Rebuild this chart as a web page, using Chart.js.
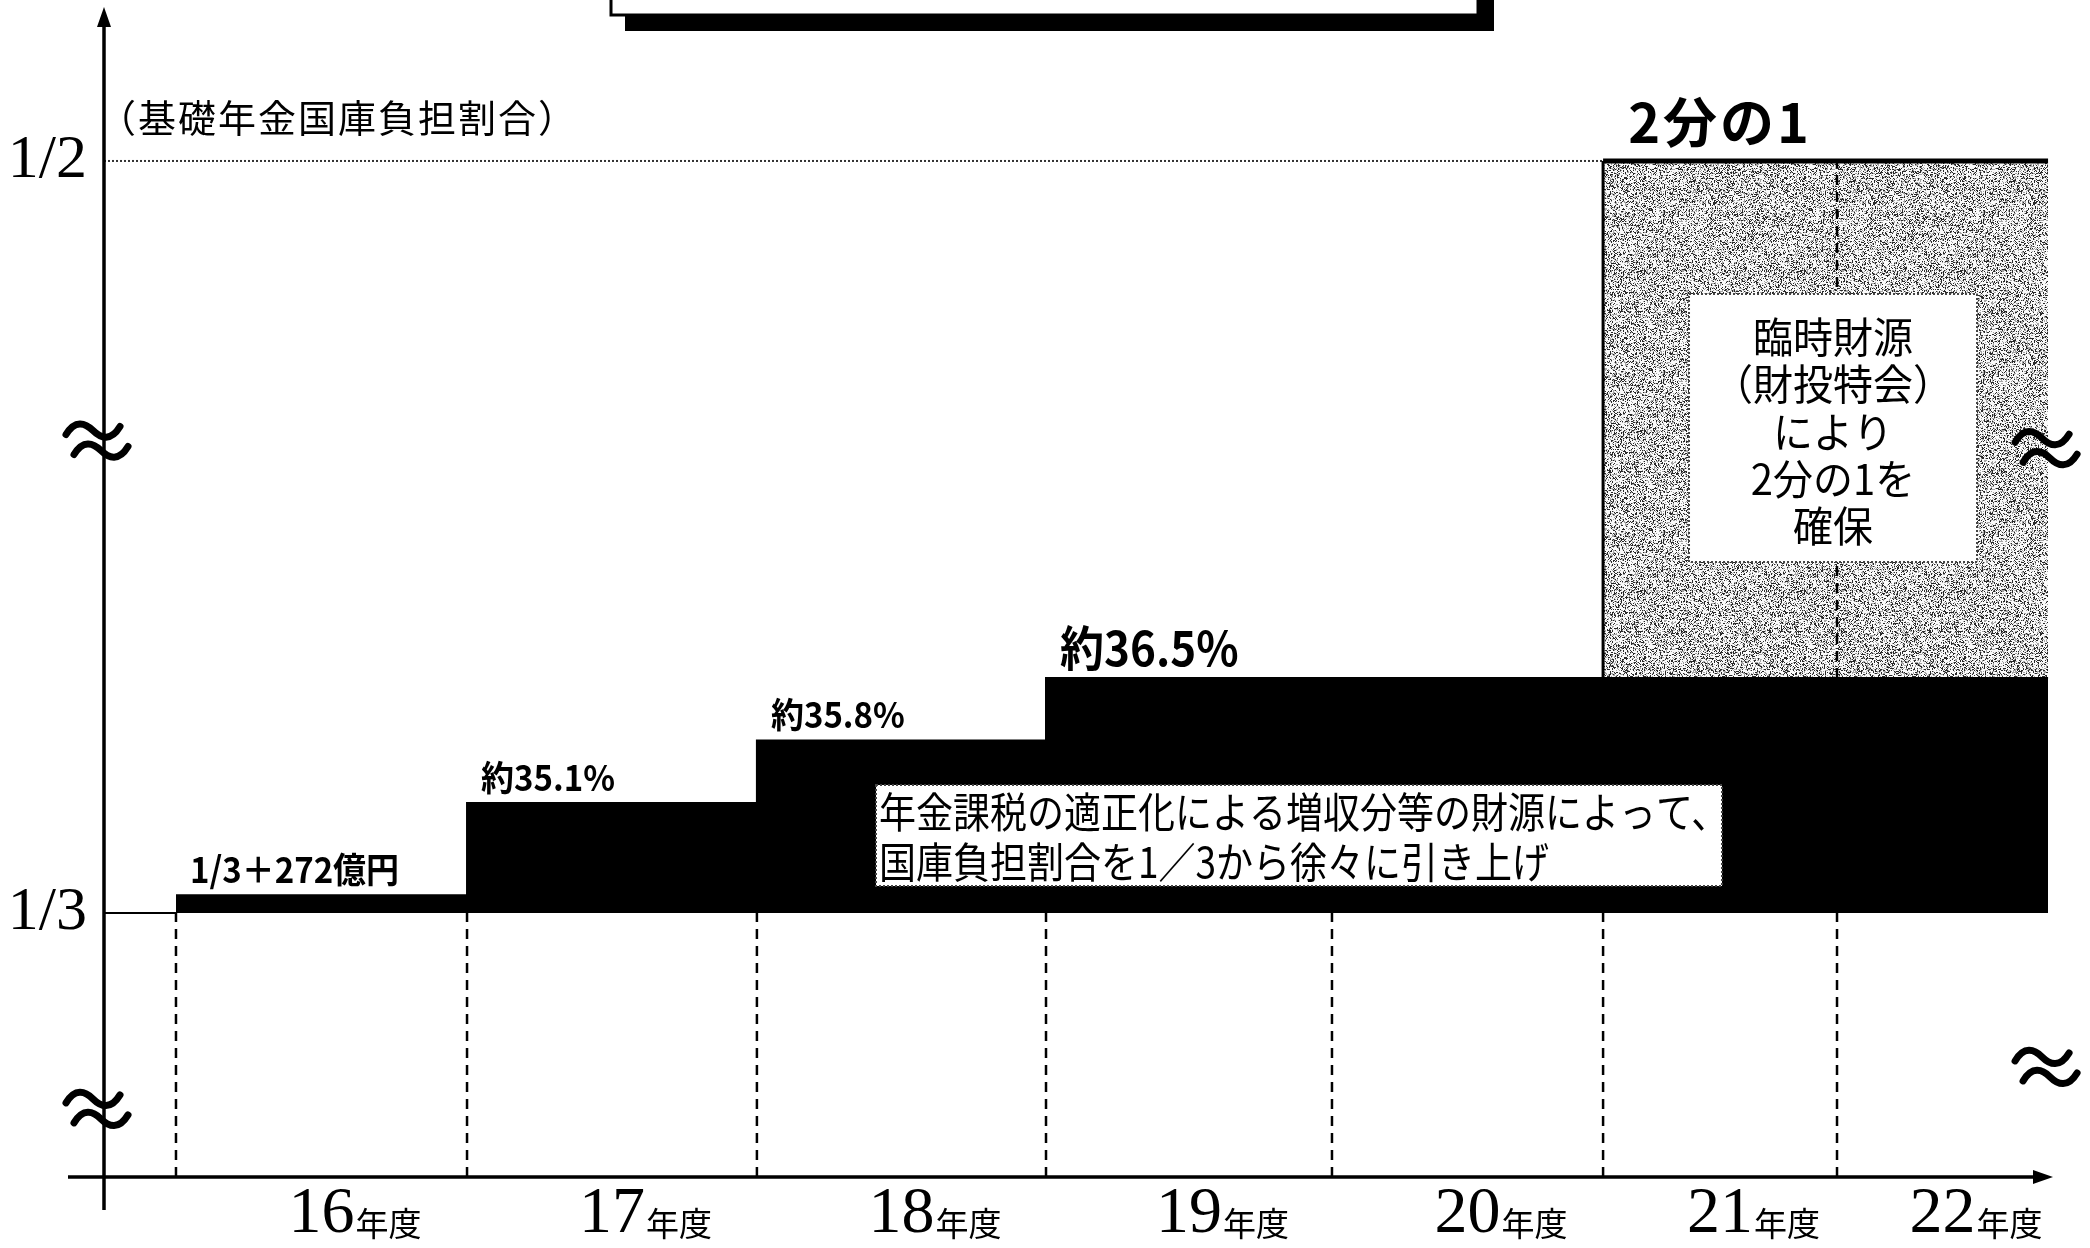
<!DOCTYPE html>
<html lang="ja">
<head>
<meta charset="utf-8">
<title>基礎年金国庫負担割合の引き上げ</title>
<script src="https://cdn.jsdelivr.net/npm/chart.js@4.4.1/dist/chart.umd.min.js"></script>
<style>
  html, body { margin: 0; padding: 0; background: #fff; }
  #wrap { width: 2090px; height: 1248px; position: relative; }
</style>
</head>
<body>
<div id="wrap"><canvas id="chart"></canvas></div>
<script>
// 年度（横軸）
const years = [16, 17, 18, 19, 20, 21, 22];
const yearLabels = ['16', '17', '18', '19', '20', '21', '22'];

// 国庫負担割合（%）
const burdenPct = [33.62, 35.1, 35.8, 36.5, 36.5, 36.5, 36.5];
const burdenLabels = ['1/3＋272億円', '約35.1%', '約35.8%', '約36.5%', null, null, null];

// 臨時財源で 2分の1 を確保する年度
const tempYears = [21, 22];
const halfPct = 50;
const thirdPct = 100 / 3;

// 縦軸目盛
const yTickValues = [thirdPct, halfPct];
const yTickLabels = ['1/3', '1/2'];

// 注記
const yAxisTitle = '（基礎年金国庫負担割合）';
const halfTitle = '2分の1';
const noteIncrease = ['年金課税の適正化による増収分等の財源によって、', '国庫負担割合を1／3から徐々に引き上げ'];
const noteTemp = ['臨時財源', '（財投特会）', 'により', '2分の1を', '確保'];

// 省略（≈）のある軸: 値 -> 軸上の位置 (0..1)
const AXIS_KNOTS = {
  x: [[15.25, 0], [15.5, 0.0368], [16.5, 0.1856], [17.5, 0.3338], [18.5, 0.4816],
      [19.5, 0.6278], [20.5, 0.7664], [21.5, 0.8860], [22.5, 0.9939], [22.557, 1]],
  y: [[0, 0], [thirdPct, 0.2256], [35.1, 0.3197], [36.5, 0.4265], [50, 0.8684], [54, 1]],
};
const yBreaksLeft = [42.7, 8.6];
const yBreaksRight = [42.5, 13.9];

function interp(knots, v, from, to) {
  for (let i = 1; i < knots.length; i++) {
    const a = knots[i - 1], b = knots[i];
    if (v <= b[from] || i === knots.length - 1) {
      return a[to] + (v - a[from]) * (b[to] - a[to]) / (b[from] - a[from]);
    }
  }
}

class BrokenScale extends Chart.LinearScale {
  getPixelForValue(value) {
    if (value === null || value === undefined || isNaN(value)) return NaN;
    return this.getPixelForDecimal(interp(AXIS_KNOTS[this.axis], value, 0, 1));
  }
  getValueForPixel(pixel) {
    return interp(AXIS_KNOTS[this.axis], this.getDecimalForPixel(pixel), 1, 0);
  }
}
BrokenScale.id = 'broken';
BrokenScale.defaults = Chart.LinearScale.defaults;
Chart.register(BrokenScale);

// ざらざらした網掛け
function makeGrain() {
  const c = document.createElement('canvas');
  c.width = c.height = 160;
  const g = c.getContext('2d');
  const img = g.createImageData(160, 160);
  let s = 20240601;
  for (let i = 0; i < 160 * 160; i++) {
    s = (Math.imul(s, 1103515245) + 12345) >>> 0;
    const r = (s >>> 8) / 16777216;
    const v = r < 0.22 ? 40 : r < 0.42 ? 165 : 250;
    img.data[i * 4] = img.data[i * 4 + 1] = img.data[i * 4 + 2] = v;
    img.data[i * 4 + 3] = 255;
  }
  g.putImageData(img, 0, 0);
  return g.createPattern(c, 'repeat');
}

// データ点を組み立てる
const xMin = AXIS_KNOTS.x[0][0];
const xMax = AXIS_KNOTS.x[AXIS_KNOTS.x.length - 1][0];
const boundaries = years.map(y => y - 0.5);

const stepPoints = years.map((y, i) => ({ x: y - 0.5, y: burdenPct[i] }));
stepPoints.push({ x: years[years.length - 1] + 0.5, y: burdenPct[burdenPct.length - 1] });

const t0 = tempYears[0] - 0.5;
const t1 = tempYears[tempYears.length - 1] + 0.5;
const tempBase = burdenPct[years.indexOf(tempYears[0])];
const tempPoints = [{ x: t0, y: tempBase }, { x: t0, y: halfPct }, { x: t1, y: halfPct }];

const dashPoints = [];
boundaries.forEach(b => dashPoints.push({ x: b, y: 0 }, { x: b, y: thirdPct }, { x: b, y: null }));
tempYears.slice(1).forEach(y => dashPoints.push({ x: y - 0.5, y: tempBase }, { x: y - 0.5, y: halfPct }, { x: y - 0.5, y: null }));

const halfLine = [{ x: xMin, y: halfPct }, { x: t0, y: halfPct }];
const thirdLine = [{ x: xMin, y: thirdPct }, { x: boundaries[0], y: thirdPct }];

function arrow(ctx, x, y, dir) {
  ctx.beginPath();
  if (dir === 'right') {
    ctx.moveTo(x, y); ctx.lineTo(x - 20, y - 7); ctx.lineTo(x - 20, y + 7);
  } else {
    ctx.moveTo(x, y); ctx.lineTo(x - 7, y + 20); ctx.lineTo(x + 7, y + 20);
  }
  ctx.closePath();
  ctx.fill();
}

// 波線（省略記号）
function breakMark(ctx, x, y) {
  ctx.lineWidth = 7;
  ctx.lineCap = 'round';
  [[-4, -10], [4, 10]].forEach(([dx, dy]) => {
    ctx.beginPath();
    ctx.moveTo(x + dx - 27, y + dy + 4);
    ctx.bezierCurveTo(x + dx - 18, y + dy - 11, x + dx - 8, y + dy - 8, x + dx, y + dy);
    ctx.bezierCurveTo(x + dx + 8, y + dy + 8, x + dx + 18, y + dy + 11, x + dx + 27, y + dy - 4);
    ctx.stroke();
  });
  ctx.lineCap = 'butt';
}

function noteBox(ctx, x, y, w, h) {
  ctx.fillStyle = '#fff';
  ctx.fillRect(x, y, w, h);
  ctx.setLineDash([2, 2]);
  ctx.lineWidth = 2;
  ctx.strokeStyle = '#444';
  ctx.strokeRect(x, y, w, h);
  ctx.setLineDash([]);
}

// 縦長の字形で書く
function tallText(ctx, text, x, y, sy) {
  ctx.save();
  ctx.translate(x, y);
  ctx.scale(1, sy);
  ctx.fillText(text, 0, 0);
  ctx.restore();
}

const decor = {
  id: 'decor',
  beforeDraw(chart) {
    const { ctx, width, height } = chart;
    ctx.save();
    ctx.fillStyle = '#fff';
    ctx.fillRect(0, 0, width, height);
    // 上部の見出し枠（上端で切れている）
    ctx.fillStyle = '#000';
    ctx.fillRect(625, 0, 869, 31);
    ctx.fillStyle = '#fff';
    ctx.fillRect(611, -10, 867, 25);
    ctx.strokeStyle = '#000';
    ctx.lineWidth = 3;
    ctx.strokeRect(611, -10, 867, 25);
    ctx.restore();
  },
  afterDatasetsDraw(chart) {
    const { ctx, chartArea } = chart;
    const xs = chart.scales.x, ys = chart.scales.y;
    const { left, top, bottom, right } = chartArea;
    ctx.save();

    // 軸と矢印
    ctx.strokeStyle = '#000';
    ctx.fillStyle = '#000';
    ctx.lineWidth = 3.5;
    ctx.beginPath();
    ctx.moveTo(left - 36, bottom);
    ctx.lineTo(right - 20, bottom);
    ctx.stroke();
    arrow(ctx, right - 7, bottom, 'right');
    ctx.beginPath();
    ctx.moveTo(left, bottom + 33);
    ctx.lineTo(left, top + 12);
    ctx.stroke();
    arrow(ctx, left, top, 'up');

    // 省略記号
    yBreaksLeft.forEach(v => breakMark(ctx, left - 7, ys.getPixelForValue(v)));
    yBreaksRight.forEach(v => breakMark(ctx, xs.getPixelForValue(t1) - 2, ys.getPixelForValue(v)));

    // 縦軸の見出し
    ctx.font = '38px "Noto Sans CJK JP"';
    ctx.textAlign = 'left';
    ctx.textBaseline = 'middle';
    ctx.letterSpacing = '2px';
    ctx.fillText(yAxisTitle, left - 6, 118);
    ctx.letterSpacing = '0px';

    // 年度の単位
    ctx.font = '66px "Liberation Serif"';
    const numW = yearLabels.map(t => ctx.measureText(t).width);
    ctx.font = '33px "Noto Sans CJK JP"';
    ctx.textBaseline = 'alphabetic';
    years.forEach((y, i) => ctx.fillText('年度', xs.getPixelForValue(y) + numW[i] / 2 + 1, 1236));

    // 各年度の割合
    burdenLabels.forEach((t, i) => {
      if (!t) return;
      const big = i === years.indexOf(19);
      ctx.font = `bold ${big ? 44 : 33}px "Noto Sans CJK JP"`;
      tallText(ctx, t, xs.getPixelForValue(years[i] - 0.5) + 14, ys.getPixelForValue(burdenPct[i]) - 12, 1.08);
    });

    // 2分の1
    ctx.font = 'bold 54px "Noto Sans CJK JP"';
    ctx.textAlign = 'center';
    ctx.letterSpacing = '3px';
    ctx.fillText(halfTitle, xs.getPixelForValue(tempYears[0]), ys.getPixelForValue(halfPct) - 18);
    ctx.letterSpacing = '0px';

    // 注記（引き上げ）
    noteBox(ctx, 876, 785, 846, 101);
    ctx.fillStyle = '#000';
    ctx.font = '37px "Noto Sans CJK JP"';
    ctx.textAlign = 'left';
    ctx.textBaseline = 'middle';
    tallText(ctx, noteIncrease[0], 879, 812, 1.14);
    tallText(ctx, noteIncrease[1], 879, 862, 1.14);

    // 注記（臨時財源）
    const cx = xs.getPixelForValue(tempYears[1] - 0.5) - 4;
    noteBox(ctx, cx - 144, 294, 288, 268);
    ctx.fillStyle = '#000';
    ctx.font = '40px "Noto Sans CJK JP"';
    ctx.textAlign = 'center';
    noteTemp.forEach((t, i) => tallText(ctx, t, cx, 337 + i * 47.3, 1.05));

    ctx.restore();
  },
};

new Chart(document.getElementById('chart'), {
  type: 'line',
  data: {
    datasets: [
      {
        label: '国庫負担割合',
        data: stepPoints,
        stepped: 'before',
        borderColor: '#000',
        borderWidth: 2,
        backgroundColor: '#000',
        fill: { value: thirdPct },
        pointRadius: 0,
        order: 1,
      },
      {
        label: '年度区切り',
        data: dashPoints,
        borderColor: '#000',
        borderWidth: 2.5,
        borderDash: [10, 7],
        pointRadius: 0,
        fill: false,
        order: 2,
      },
      {
        label: '臨時財源',
        data: tempPoints,
        borderColor: '#000',
        backgroundColor: makeGrain(),
        fill: { value: tempBase },
        pointRadius: 0,
        borderWidth: 4,
        segment: { borderWidth: c => (c.p0DataIndex === 0 ? 3 : 5) },
        order: 3,
      },
      {
        label: '1/2',
        data: halfLine,
        borderColor: '#333',
        borderWidth: 2,
        borderDash: [2, 2],
        pointRadius: 0,
        fill: false,
        order: 4,
      },
      {
        label: '1/3',
        data: thirdLine,
        borderColor: '#000',
        borderWidth: 2,
        pointRadius: 0,
        fill: false,
        order: 4,
      },
    ],
  },
  options: {
    responsive: true,
    maintainAspectRatio: false,
    animation: false,
    events: [],
    layout: { padding: { top: 7, right: 30, left: 0, bottom: 0 } },
    plugins: { legend: { display: false }, tooltip: { enabled: false } },
    scales: {
      x: {
        type: 'broken',
        min: xMin,
        max: xMax,
        grid: { display: false, drawTicks: false },
        border: { display: false },
        afterBuildTicks: s => { s.ticks = years.map(v => ({ value: v })); },
        afterFit: s => { s.height = 71; s.paddingLeft = 0; s.paddingRight = 0; },
        ticks: {
          autoSkip: false,
          maxRotation: 0,
          padding: 5,
          color: '#000',
          font: { family: '"Liberation Serif", serif', size: 66, lineHeight: 1 },
          callback: (v, i) => yearLabels[i],
        },
      },
      y: {
        type: 'broken',
        min: 0,
        max: 54,
        grid: { display: false, drawTicks: false },
        border: { display: false },
        afterBuildTicks: s => { s.ticks = yTickValues.map(v => ({ value: v })); },
        afterFit: s => { s.width = 104; s.paddingTop = 0; s.paddingBottom = 0; },
        ticks: {
          padding: 17,
          color: '#000',
          font: { family: '"Liberation Serif", serif', size: 62, lineHeight: 1 },
          callback: (v, i) => yTickLabels[i],
        },
      },
    },
  },
  plugins: [decor],
});
</script>
</body>
</html>
